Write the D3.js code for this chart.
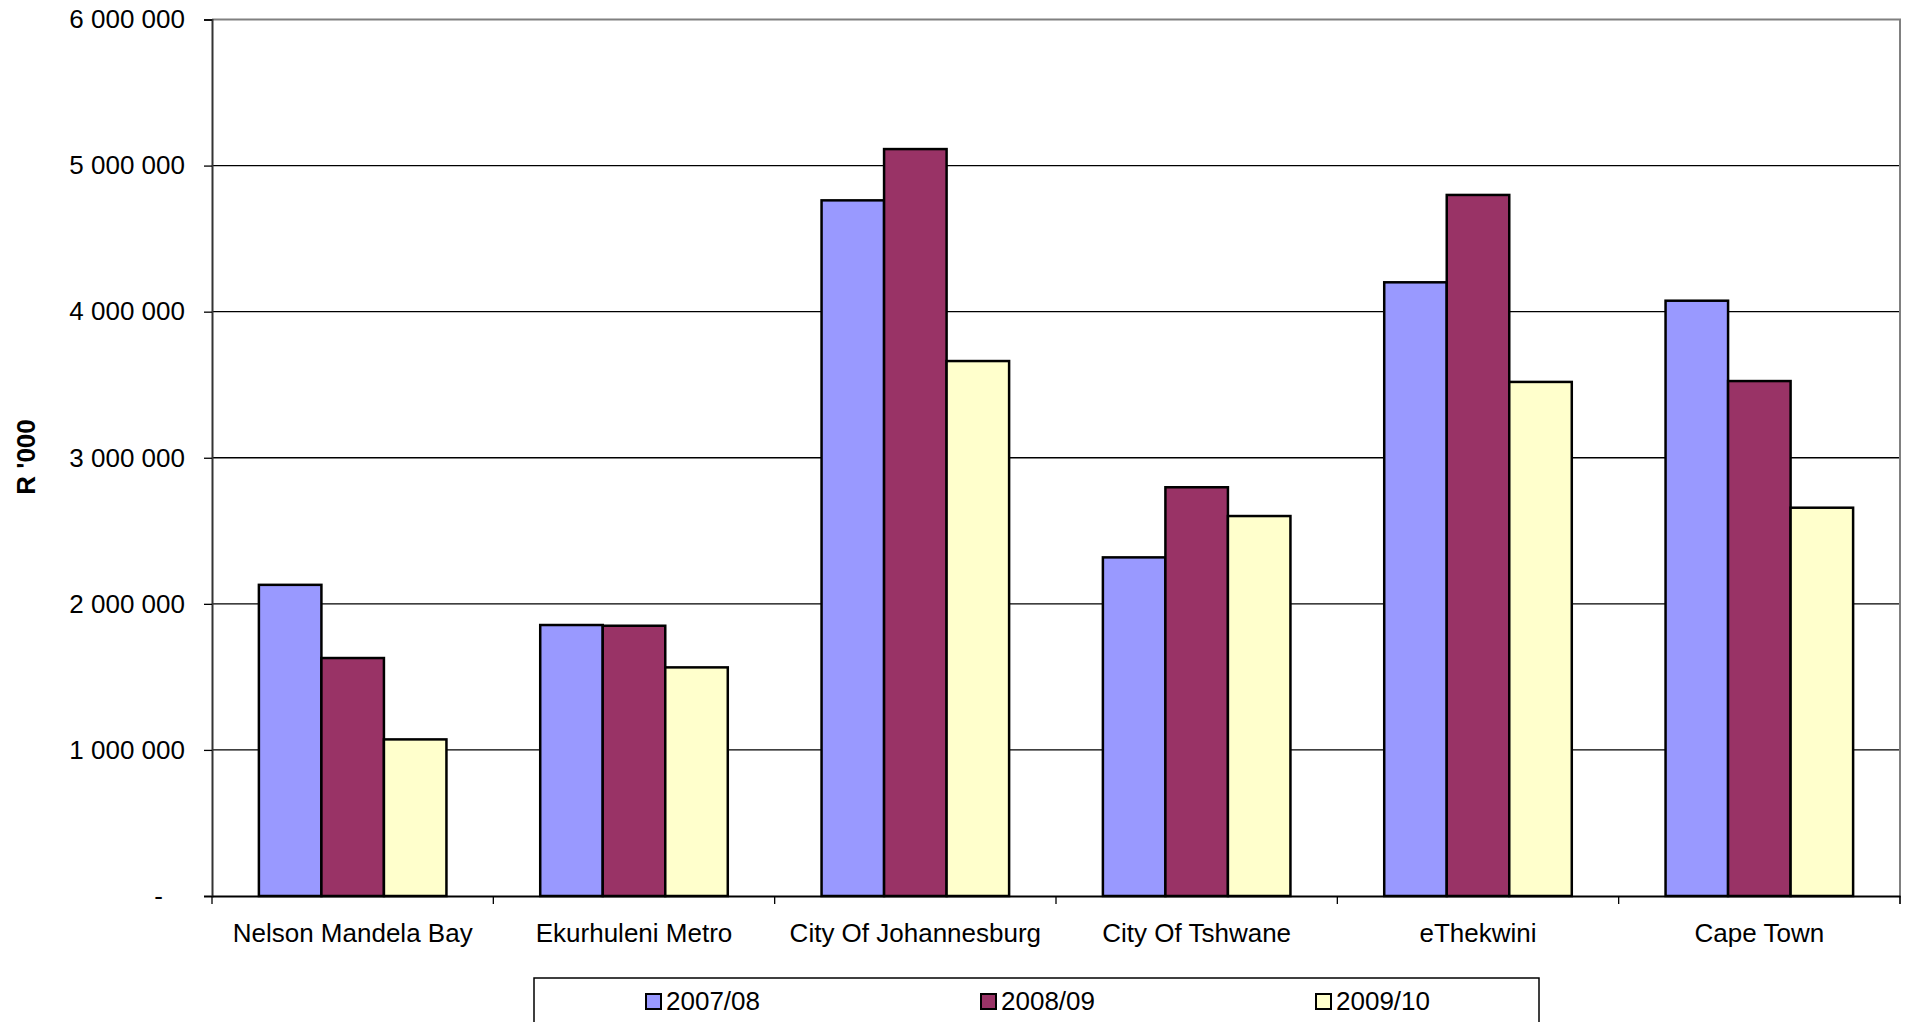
<!DOCTYPE html>
<html>
<head>
<meta charset="utf-8">
<script src="https://cdn.jsdelivr.net/npm/d3@7"></script>
<style>
  html, body { margin: 0; padding: 0; background: #fff; }
  svg { display: block; }
  text { font-family: "Liberation Sans", Arial, sans-serif; fill: #000; }
</style>
</head>
<body>
<svg id="chart" width="1910" height="1022"></svg>
<script>
const categories = ["Nelson Mandela Bay", "Ekurhuleni Metro", "City Of Johannesburg", "City Of Tshwane", "eThekwini", "Cape Town"];
const seriesNames = ["2007/08", "2008/09", "2009/10"];
const values2007 = [2130000, 1855000, 4762000, 2318000, 4201000, 4075000];
const values2008 = [1629000, 1850000, 5113000, 2798000, 4799000, 3525000];
const values2009 = [1072000, 1565000, 3662000, 2601000, 3519000, 2658000];
const yTicks = [0, 1000000, 2000000, 3000000, 4000000, 5000000, 6000000];
const seriesColors = ["#9999FF", "#993366", "#FFFFCC"];
const yTitle = "R '000";

(function () {
const seriesValues = [values2007, values2008, values2009];

const svg = d3.select("#chart");
const pLeft = 212, pRight = 1900, pTop = 19.5, pBottom = 896;

const x = d3.scaleBand().domain(categories).range([pLeft, pRight]).padding(0);
const xs = d3.scaleBand().domain(seriesNames).range([0, x.bandwidth()]).paddingInner(0).paddingOuter(0.75);
const y = d3.scaleLinear().domain([0, 6000000]).range([pBottom, pTop]);

// gridlines
svg.append("g").selectAll("line").data(yTicks.filter(d => d > 0 && d < 6000000)).join("line")
  .attr("x1", pLeft).attr("x2", pRight)
  .attr("y1", d => y(d)).attr("y2", d => y(d))
  .attr("stroke", "#000").attr("stroke-width", 1.3);

// plot border top/right (grey)
svg.append("path")
  .attr("d", `M${pLeft},${y(6000000)}H${pRight}V${pBottom + 8}`)
  .attr("fill", "none").attr("stroke", "#808080").attr("stroke-width", 2);

// bars
const barData = [];
categories.forEach((c, i) => {
  seriesNames.forEach((s, j) => {
    barData.push({ c, s, v: seriesValues[j][i], color: seriesColors[j] });
  });
});
svg.append("g").selectAll("rect").data(barData).join("rect")
  .attr("x", d => x(d.c) + xs(d.s))
  .attr("width", xs.bandwidth())
  .attr("y", d => y(d.v))
  .attr("height", d => y(0) - y(d.v))
  .attr("fill", d => d.color)
  .attr("stroke", "#000").attr("stroke-width", 2.5);

// y axis
const fmt = d => d === 0 ? "-" : d3.format(",")(d).replace(/,/g, " ");
const yAxis = svg.append("g").attr("transform", `translate(${pLeft},0)`)
  .call(d3.axisLeft(y).tickValues(yTicks).tickFormat(fmt).tickSize(8).tickPadding(19));
yAxis.select(".domain").attr("stroke", "#333").attr("stroke-width", 2);
yAxis.selectAll(".tick line").attr("stroke", "#000").attr("stroke-width", 1.3);
yAxis.selectAll("text").style("font-family", '"Liberation Sans", Arial, sans-serif').style("font-size", "26px").attr("fill", "#000")
  .attr("dx", d => d === 0 ? -22 : 0);

// x axis
const xAxis = svg.append("g").attr("transform", `translate(0,${pBottom})`)
  .call(d3.axisBottom(x).tickSize(0).tickPadding(28));
xAxis.select(".domain").attr("stroke", "#000").attr("stroke-width", 2);
xAxis.selectAll("text").style("font-family", '"Liberation Sans", Arial, sans-serif').style("font-size", "26px").attr("fill", "#000");
// boundary ticks
const bounds = categories.map(c => x(c)).concat([pRight]);
svg.append("g").selectAll("line").data(bounds).join("line")
  .attr("x1", d => d).attr("x2", d => d)
  .attr("y1", pBottom).attr("y2", pBottom + 8)
  .attr("stroke", "#000").attr("stroke-width", 1.3);

// y title
svg.append("text")
  .attr("transform", `translate(35,457) rotate(-90)`)
  .attr("text-anchor", "middle")
  .style("font-size", "26px").style("font-weight", "bold")
  .text(yTitle);

// legend
const lg = svg.append("g");
lg.append("rect").attr("x", 534).attr("y", 978).attr("width", 1005).attr("height", 70)
  .attr("fill", "#fff").attr("stroke", "#000").attr("stroke-width", 1.5);
const itemX = d3.scalePoint().domain(seriesNames).range([646, 1316]);
const items = lg.selectAll("g.item").data(seriesNames).join("g").attr("class", "item")
  .attr("transform", s => `translate(${itemX(s)},0)`);
items.append("rect").attr("x", 0).attr("y", 994).attr("width", 15).attr("height", 15)
  .attr("fill", (s, i) => seriesColors[i]).attr("stroke", "#000").attr("stroke-width", 2);
items.append("text").attr("x", 20).attr("y", 1010)
  .style("font-size", "26px").text(s => s);
})();
</script>
</body>
</html>
